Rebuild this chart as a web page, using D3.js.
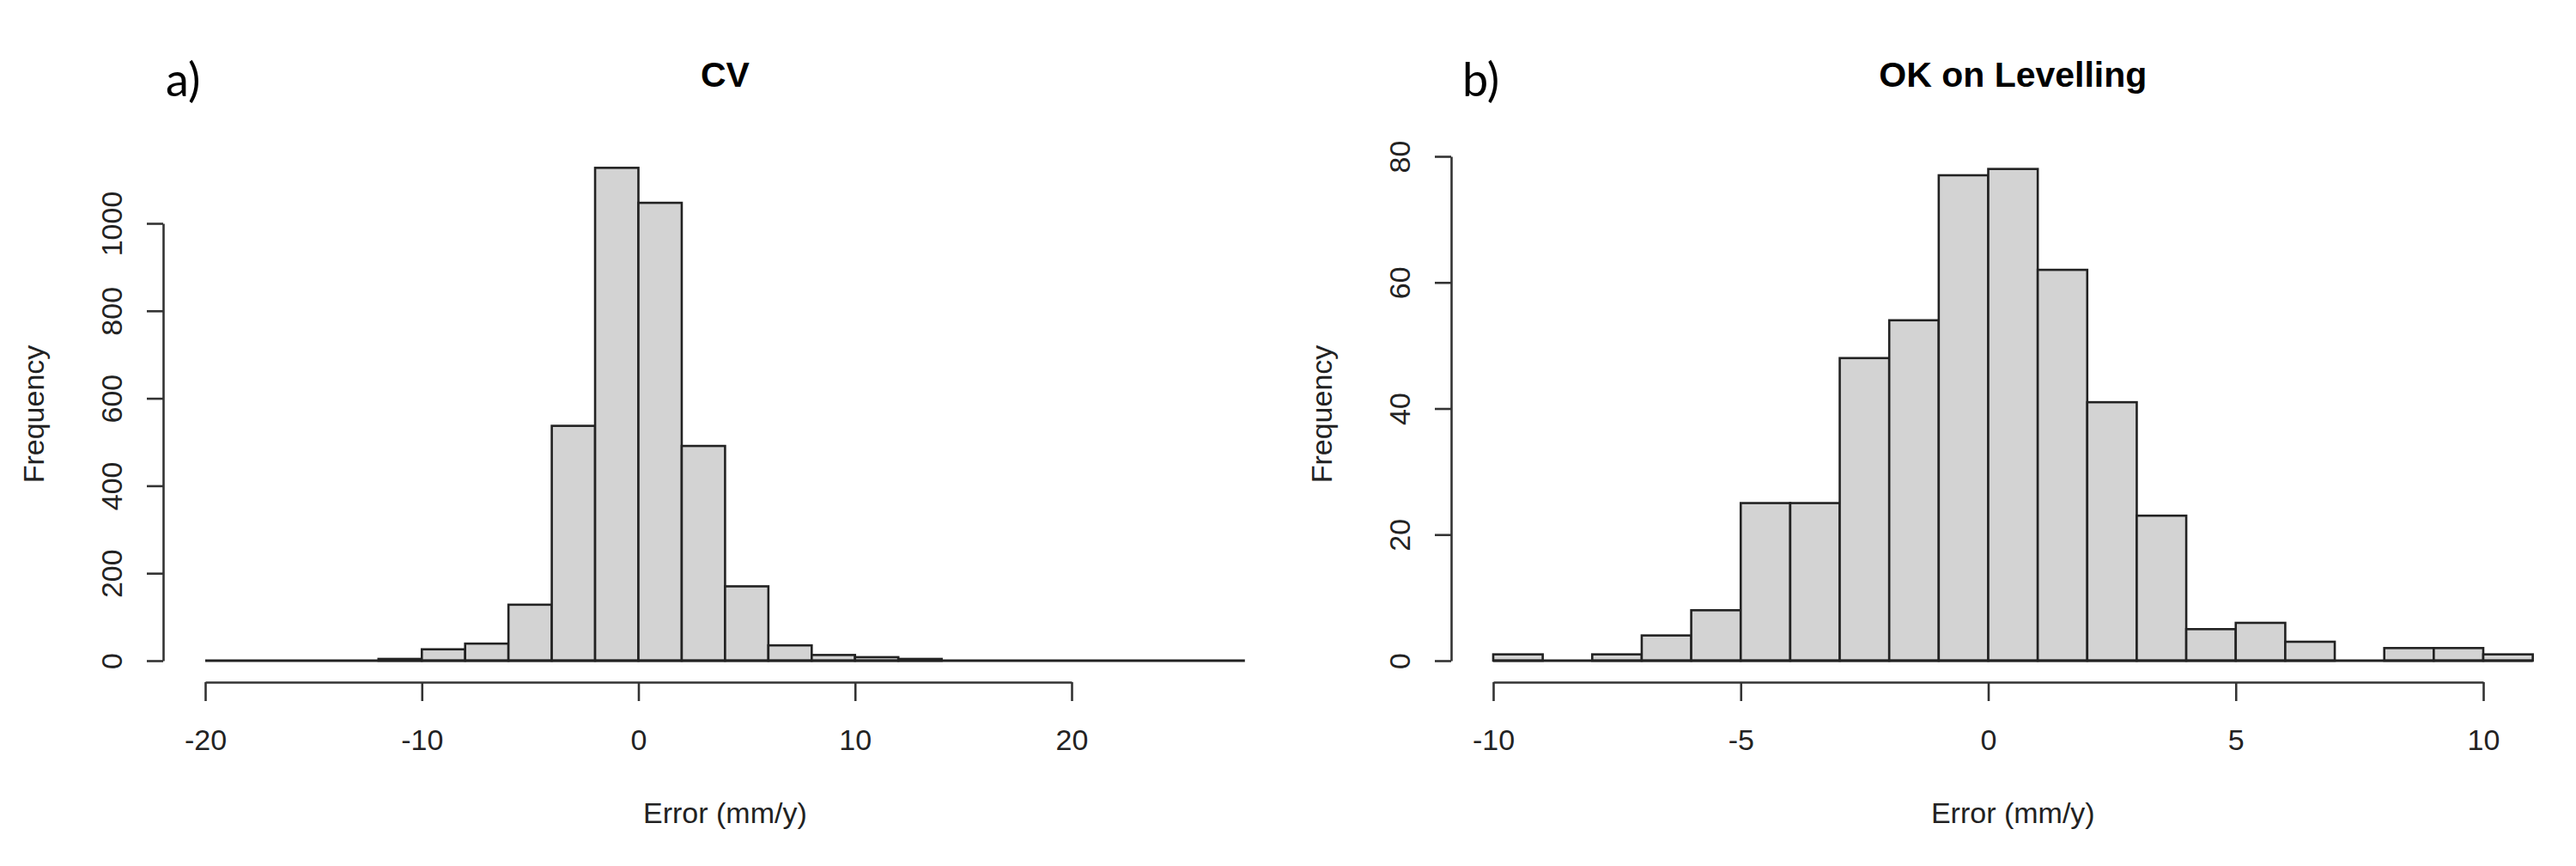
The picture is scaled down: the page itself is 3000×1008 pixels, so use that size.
<!DOCTYPE html>
<html>
<head>
<meta charset="utf-8">
<script src="https://cdn.jsdelivr.net/npm/d3@7"></script>
<style>
  body { margin: 0; background: #fff; }
  text { font-family: "Liberation Sans", Arial, sans-serif; }
</style>
</head>
<body>
<div id="chart"></div>
<script>
// panel a) CV histogram (bin edges + counts)
var cvBreaks = [-20, -18, -16, -14, -12, -10, -8, -6, -4, -2, 0, 2, 4, 6, 8, 10, 12, 14, 16, 18, 20, 22, 24, 26, 28];
var cvCounts = [0, 0, 0, 0, 4, 26, 39, 128, 537, 1127, 1047, 491, 170, 35, 13, 8, 4, 0, 0, 0, 0, 0, 0, 0];
var cvTicksX = [-20, -10, 0, 10, 20];
var cvTicksY = [0, 200, 400, 600, 800, 1000];

// panel b) OK on Levelling
var okBreaks = [-10, -9, -8, -7, -6, -5, -4, -3, -2, -1, 0, 1, 2, 3, 4, 5, 6, 7, 8, 9, 10, 11];
var okCounts = [1, 0, 1, 4, 8, 25, 25, 48, 54, 77, 78, 62, 41, 23, 5, 6, 3, 0, 2, 2, 1];
var okTicksX = [-10, -5, 0, 5, 10];
var okTicksY = [0, 20, 40, 60, 80];

var width = 3000,
    height = 1008;

var svg = d3.select("#chart")
    .append("svg")
    .attr("width", width)
    .attr("height", height)
    .style("background", "#fff");

function drawPanel(p) {
    var x = d3.scaleLinear()
        .domain([p.ticksX[0], p.ticksX[p.ticksX.length - 1]])
        .range(p.xRange);
    var y = d3.scaleLinear()
        .domain([p.ticksY[0], p.ticksY[p.ticksY.length - 1]])
        .range(p.yRange);

    var bins = p.counts.map(function(c, i) {
        return { x0: p.breaks[i], x1: p.breaks[i + 1], n: c };
    });

    var g = svg.append("g");

    g.selectAll("rect")
        .data(bins)
        .join("rect")
        .attr("x", function(d) { return x(d.x0); })
        .attr("width", function(d) { return x(d.x1) - x(d.x0); })
        .attr("y", function(d) { return y(d.n); })
        .attr("height", function(d) { return y(0) - y(d.n); })
        .attr("fill", "#d3d3d3")
        .attr("stroke", "#222")
        .attr("stroke-width", 2.6);

    // empty bins still leave their bottom edge, like R's hist()
    g.append("line")
        .attr("x1", x(p.breaks[0]))
        .attr("x2", x(p.breaks[p.breaks.length - 1]))
        .attr("y1", y(0))
        .attr("y2", y(0))
        .attr("stroke", "#222")
        .attr("stroke-width", 3);

    // x axis (below plot, R style)
    var xa = g.append("g")
        .attr("transform", "translate(0," + p.xAxisY + ")")
        .call(d3.axisBottom(x).tickValues(p.ticksX).tickSize(22).tickSizeOuter(0).tickFormat(d3.format("d")));
    xa.selectAll("text")
        .attr("y", 79)
        .attr("dy", 0)
        .attr("font-size", 34)
        .attr("fill", "#222")
        .text(function(d) { return String(d); });

    // y axis
    var ya = g.append("g")
        .attr("transform", "translate(" + p.yAxisX + ",0)")
        .call(d3.axisLeft(y).tickValues(p.ticksY).tickSize(19).tickSizeOuter(0).tickFormat(d3.format("d")));
    ya.selectAll("text")
        .attr("transform", "rotate(-90)")
        .attr("x", 0)
        .attr("y", -48)
        .attr("dy", 0)
        .attr("text-anchor", "middle")
        .attr("font-size", 34)
        .attr("fill", "#222");

    svg.selectAll(".domain, .tick line")
        .attr("stroke", "#333")
        .attr("stroke-width", 2.6);

    var cx = (x(p.breaks[0]) + x(p.breaks[p.breaks.length - 1])) / 2;

    g.append("text")
        .attr("x", cx)
        .attr("y", 101)
        .attr("text-anchor", "middle")
        .attr("font-size", 41)
        .attr("font-weight", "bold")
        .attr("fill", "#000")
        .text(p.title);

    g.append("text")
        .attr("x", cx)
        .attr("y", 958)
        .attr("text-anchor", "middle")
        .attr("font-size", 34)
        .attr("fill", "#222")
        .text("Error (mm/y)");

    g.append("text")
        .attr("transform", "translate(" + (p.yAxisX - 139) + ",482) rotate(-90)")
        .attr("text-anchor", "middle")
        .attr("font-size", 34)
        .attr("fill", "#222")
        .text("Frequency");

    g.append("text")
        .attr("x", p.tagX)
        .attr("y", 112)
        .style("font-family", "Lato, 'Open Sans', sans-serif")
        .attr("font-size", 54)
        .attr("fill", "#000")
        .text(p.tag);
}

drawPanel({
    breaks: cvBreaks, counts: cvCounts, ticksX: cvTicksX, ticksY: cvTicksY,
    xRange: [239, 1248], yRange: [769, 260],
    xAxisY: 794, yAxisX: 190,
    title: "CV", tag: "a)", tagX: 193
});

drawPanel({
    breaks: okBreaks, counts: okCounts, ticksX: okTicksX, ticksY: okTicksY,
    xRange: [1739, 2892], yRange: [769, 182],
    xAxisY: 794, yAxisX: 1690,
    title: "OK on Levelling", tag: "b)", tagX: 1703
});
</script>
</body>
</html>
